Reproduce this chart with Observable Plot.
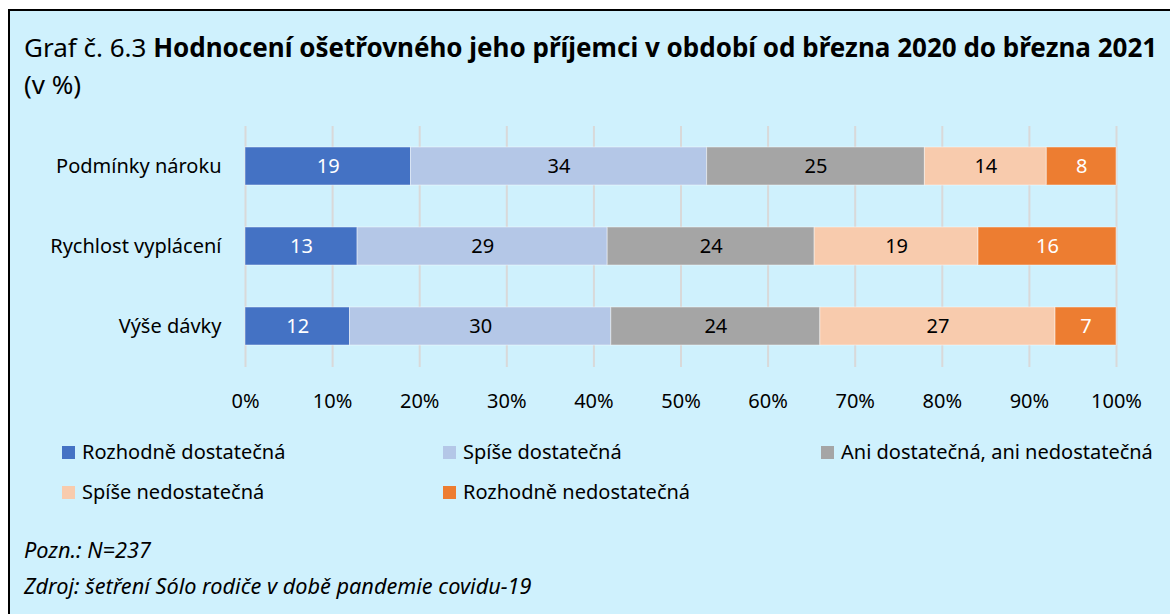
<!DOCTYPE html>
<html><head><meta charset="utf-8">
<script src="https://cdn.jsdelivr.net/npm/d3@7"></script>
<script src="https://cdn.jsdelivr.net/npm/@observablehq/plot@0.6"></script>
<style>
html,body{margin:0;padding:0;background:#fff;width:1170px;height:614px;overflow:hidden;}
body{position:relative;font-family:"Noto Sans",sans-serif;color:#000;}
#frame{position:absolute;left:8px;top:9px;width:1180px;height:640px;border:2px solid #000;background:#cff1fd;box-sizing:border-box;}
.abs{position:absolute;white-space:nowrap;}
#title{left:24px;top:30px;font-size:26px;line-height:34px;}
#title2{left:24px;top:67px;font-size:26px;line-height:34px;}
#chart{position:absolute;left:0;top:110px;}
.leg{position:absolute;font-size:20px;line-height:26px;white-space:nowrap;}
.leg span.sw{display:inline-block;width:13px;height:13px;margin-right:7px;vertical-align:0px;}
.note{position:absolute;left:24px;font-size:21.7px;font-style:italic;white-space:nowrap;line-height:28px;}
</style></head>
<body>
<div id="frame"></div>
<div id="title" class="abs">Graf č. 6.3 <b>Hodnocení ošetřovného jeho příjemci v období od března 2020 do března 2021</b></div>
<div id="title2" class="abs">(v %)</div>
<div id="chart"></div>
<div id="legend"></div>
<div class="note" style="top:536px">Pozn.: N=237</div>
<div class="note" style="top:572px">Zdroj: šetření Sólo rodiče v době pandemie covidu-19</div>
<script>
const categories = ["Podmínky nároku", "Rychlost vyplácení", "Výše dávky"];
const seriesNames = ["Rozhodně dostatečná", "Spíše dostatečná", "Ani dostatečná, ani nedostatečná", "Spíše nedostatečná", "Rozhodně nedostatečná"];
const seriesColors = ["#4472c4", "#b4c7e7", "#a5a5a5", "#f8cbad", "#ed7d31"];
const labelColors = ["#ffffff", "#000000", "#000000", "#000000", "#ffffff"];
const rozhodneDostatecna = [19, 13, 12];
const spiseDostatecna = [34, 29, 30];
const aniAni = [25, 24, 24];
const spiseNedostatecna = [14, 19, 27];
const rozhodneNedostatecna = [8, 16, 7];
const xTicks = [0, 10, 20, 30, 40, 50, 60, 70, 80, 90, 100];

const seriesValues = [rozhodneDostatecna, spiseDostatecna, aniAni, spiseNedostatecna, rozhodneNedostatecna];
const data = [];
seriesNames.forEach((s, si) => categories.forEach((c, ci) => data.push({cat: c, series: s, si, value: seriesValues[si][ci]})));
const tickFractions = xTicks.map(t => t / 100);

const font = "'Noto Sans', sans-serif";
const chart = Plot.plot({
  width: 1170, height: 302,
  marginLeft: 245, marginRight: 54, marginTop: 16, marginBottom: 45,
  style: {background: "transparent", fontFamily: font, fontSize: "20px", color: "#000", overflow: "visible"},
  x: {domain: [0, 1], label: null},
  y: {domain: categories, paddingInner: 0.52, paddingOuter: 0.25, label: null},
  color: {domain: seriesNames, range: seriesColors},
  marks: [
    Plot.gridX(tickFractions, {stroke: "#d9d9d9", strokeWidth: 2, strokeOpacity: 1}),
    Plot.barX(data, Plot.stackX({x: "value", y: "cat", fill: "series", offset: "normalize", stroke: "#ffffff", strokeOpacity: 0.45, strokeWidth: 1})),
    Plot.text(data, Plot.stackX({x: "value", y: "cat", offset: "normalize", text: d => String(d.value), fill: d => labelColors[d.si], fontSize: 20})),
    Plot.axisX(tickFractions, {tickSize: 0, tickPadding: 26, tickFormat: d => Math.round(d * 100) + "%", fontSize: 20, label: null}),
    Plot.axisY({tickSize: 0, tickPadding: 24, fontSize: 20, label: null})
  ]
});
document.getElementById("chart").appendChild(chart);

const legendPos = [[62, 439], [443, 439], [821, 439], [62, 479], [443, 479]];
const legend = document.getElementById("legend");
seriesNames.forEach((s, i) => {
  const d = document.createElement("div");
  d.className = "leg";
  d.style.left = legendPos[i][0] + "px";
  d.style.top = legendPos[i][1] + "px";
  d.innerHTML = `<span class="sw" style="background:${seriesColors[i]}"></span>${s}`;
  legend.appendChild(d);
});
</script>
</body></html>
